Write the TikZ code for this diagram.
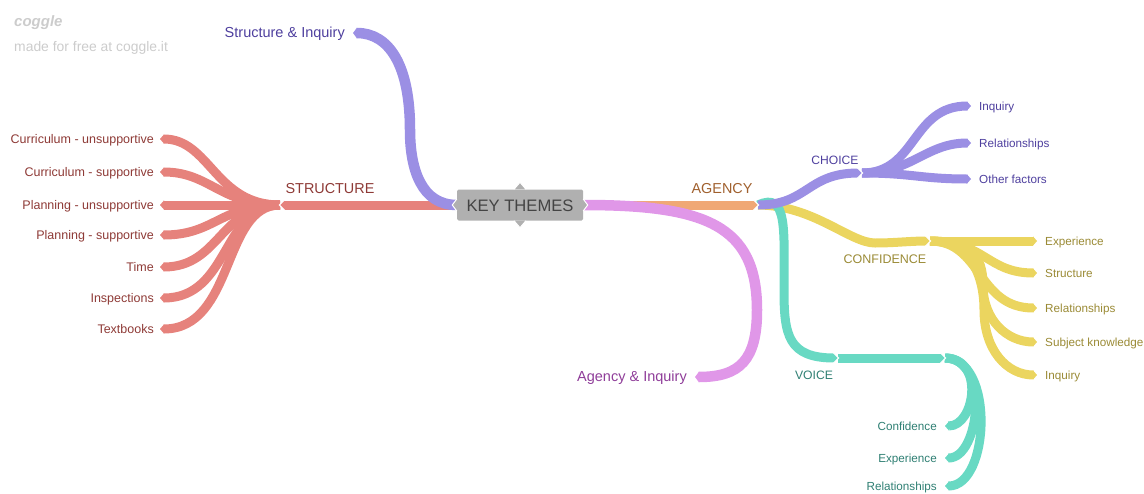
\documentclass[tikz,border=0pt]{standalone}
\usepackage{fontspec}
\setmainfont{Liberation Sans}
\usepackage{tikz}
\usetikzlibrary{positioning,arrows.meta}
\definecolor{redline}{HTML}{E6827C}
\definecolor{redtext}{HTML}{8E3A36}
\definecolor{purpleline}{HTML}{9B8FE4}
\definecolor{purpletext}{HTML}{4E3F9E}
\definecolor{orangeline}{HTML}{F0A875}
\definecolor{orangetext}{HTML}{A0602E}
\definecolor{pinkline}{HTML}{E097E8}
\definecolor{pinktext}{HTML}{8F3D99}
\definecolor{tealline}{HTML}{68D9C3}
\definecolor{tealtext}{HTML}{2F7F73}
\definecolor{yellowline}{HTML}{EBD55F}
\definecolor{yellowtext}{HTML}{9A8A35}
\definecolor{keygrey}{HTML}{B0B0B0}
\definecolor{keytext}{HTML}{444444}
\definecolor{cogglegrey}{HTML}{CCCCCC}
\begin{document}
\begin{tikzpicture}[x=1pt,y=-1pt,
	notch/.pic={\draw[white,line width=1pt] (-4.9,-5.5)--(0.6,0)--(-4.9,5.5);}]
		 \tikzstyle{every node}=[inner sep=0pt,text height=10pt,text depth=1pt]
		 \tikzstyle{branch}=[line width=9pt,-{Triangle[length=4pt,width=9pt]}]
		 \tikzstyle{thick branch}=[line width=10.5pt,-{Triangle[length=4pt,width=10.5pt]}]
		 \tikzstyle{redbranch}=[branch,draw=redline]
		 \tikzstyle{purplebranch}=[branch,draw=purpleline]
		 \tikzstyle{orangebranch}=[branch,draw=orangeline]
		 \tikzstyle{pinkbranch}=[branch,draw=pinkline]
		 \tikzstyle{tealbranch}=[branch,draw=tealline]
		 \tikzstyle{yellowbranch}=[branch,draw=yellowline]
		 \tikzstyle{lefttext}=[anchor=east,inner xsep=6pt,font=\fontsize{12.5}{15}\selectfont]
		 \tikzstyle{righttext}=[anchor=west,inner xsep=8pt,font=\fontsize{11.7}{14}\selectfont]
		 \tikzstyle{tealleaf}=[anchor=east,inner xsep=8pt,text=tealtext,font=\fontsize{11.7}{14}\selectfont]
		 \tikzstyle{headtext}=[text height=10pt,text depth=0pt]
		 \tikzstyle{keytip}=[draw=white,fill=keygrey,line width=1pt]

		  \useasboundingbox (0,0) rectangle (1144,493);

		  \node         (logo) [anchor=west,text=cogglegrey,font=\fontsize{15}{18}\bfseries\itshape\selectfont] at (14,22) {coggle};
		  \node         (free) [anchor=west,text=cogglegrey,font=\fontsize{13.9}{16}\selectfont] at (14,47) {made for free at coggle.it};

		  \node         (key) [fill=keygrey,rounded corners=1.5pt,minimum width=126pt,minimum height=31pt,text height=12pt,text depth=0pt,text=keytext,font=\fontsize{16.6}{20}\selectfont] at (520,205) {KEY THEMES};

		  \node         (cu) [lefttext,text=redtext] at (160,139) {Curriculum - unsupportive};
		  \node         (cs) [below=33pt of cu.east,lefttext,text=redtext] {Curriculum - supportive};
		  \node         (pu) [below=33pt of cs.east,lefttext,text=redtext] {Planning - unsupportive};
		  \node         (ps) [below=30pt of pu.east,lefttext,text=redtext] {Planning - supportive};
		  \node         (time) [below=32pt of ps.east,lefttext,text=redtext] {Time};
		  \node         (insp) [below=31pt of time.east,lefttext,text=redtext] {Inspections};
		  \node         (text) [below=31pt of insp.east,lefttext,text=redtext] {Textbooks};

		  \node         (si) [anchor=east,inner xsep=8pt,text=purpletext,font=\fontsize{14.5}{17}\selectfont] at (353,33) {Structure \& Inquiry};
		  \node         (ai) [anchor=east,inner xsep=8pt,text=pinktext,font=\fontsize{14.5}{17}\selectfont] at (695,377) {Agency \& Inquiry};

		  \node         (ci) [righttext,text=purpletext] at (971,106) {Inquiry};
		  \node         (cr) [below=37pt of ci.west,righttext,text=purpletext] {Relationships};
		  \node         (co) [below=36pt of cr.west,righttext,text=purpletext] {Other factors};

		  \node         (ye) [righttext,text=yellowtext] at (1037,241) {Experience};
		  \node         (ys) [below=32pt of ye.west,righttext,text=yellowtext] {Structure};
		  \node         (yr) [below=35pt of ys.west,righttext,text=yellowtext] {Relationships};
		  \node         (yk) [below=34pt of yr.west,righttext,text=yellowtext] {Subject knowledge};
		  \node         (yi) [below=33pt of yk.west,righttext,text=yellowtext] {Inquiry};

		  \node         (tc) [tealleaf] at (945,426) {Confidence};
		  \node         (te) [below=32pt of tc.east,tealleaf] {Experience};
		  \node         (tr) [below=28pt of te.east,tealleaf] {Relationships};

		  \node         (structure) [headtext,text=redtext,font=\fontsize{14.4}{17}\selectfont] at (330,188) {STRUCTURE};
		  \node         (agency) [headtext,text=orangetext,font=\fontsize{14.4}{17}\selectfont] at (722,188) {AGENCY};
		  \node         (choice) [headtext,text=purpletext,font=\fontsize{12.1}{15}\selectfont] at (835,159) {CHOICE};
		  \node         (confidence) [headtext,text=yellowtext,font=\fontsize{12.5}{15}\selectfont] at (885,258) {CONFIDENCE};
		  \node         (voice) [headtext,text=tealtext,font=\fontsize{12.2}{15}\selectfont] at (814,374) {VOICE};

		  \coordinate   (sjoin) at (280,205);
		  \coordinate   (ajoin) at (758,205);
		  \coordinate   (cjoin) at (862,173);
		  \coordinate   (yjoin) at (930,241);
		  \coordinate   (vjoin) at (838,358);
		  \coordinate   (tjoin) at (945,358);
		  \coordinate   (vbend) at (784,290);
		  \coordinate   (sbend) at (410,130);
		  \coordinate   (abend) at (757,310);
		  \coordinate   (ybend) at (875,243);
		  \coordinate   (ykbend) at (983,285);
		  \coordinate   (yibend) at (984,310);

		  \draw[redbranch] (sjoin) .. controls +(-65,0) and +(50,0) .. (cu.east);
		  \draw[redbranch] (sjoin) .. controls +(-60,0) and +(50,0) .. (cs.east);
		  \path(sjoin) edge[redbranch] (pu.east);
		  \draw[redbranch] (sjoin) .. controls +(-60,0) and +(55,0) .. (ps.east);
		  \draw[redbranch] (sjoin) .. controls +(-60,0) and +(60,0) .. (time.east);
		  \draw[redbranch] (sjoin) .. controls +(-58,0) and +(70,0) .. (insp.east);
		  \draw[redbranch] (sjoin) .. controls +(-58,0) and +(75,0) .. (text.east);
		  \path(key.west) edge[redbranch] (sjoin);
		  \path(sjoin) pic[rotate=180] {notch};

		  \draw[purplebranch,thick branch] (key.west) .. controls +(-35,0) and +(0,40) .. (sbend) .. controls +(0,-65) and +(36,0) .. (si.east);

		  \path(yjoin) edge[yellowbranch] (ye.west);
		  \draw[yellowbranch] (yjoin) .. controls +(55,0) and +(-50,0) .. (ys.west);
		  \draw[yellowbranch] (yjoin) .. controls +(52,0) and +(-60,0) .. (yr.west);
		  \draw[yellowbranch] (yjoin) .. controls +(40,0) and +(0,-30) .. (ykbend) .. controls +(0,35) and +(-30,0) .. (yk.west);
		  \draw[yellowbranch] (yjoin) .. controls +(40,0) and +(0,-35) .. (yibend) .. controls +(0,40) and +(-30,0) .. (yi.west);
		  \draw[yellowbranch] (ajoin) .. controls +(55,0) and +(-25,0) .. (ybend) .. controls +(20,0) and +(-20,0) .. (yjoin);
		  \path(yjoin) pic {notch};

		  \draw[tealbranch] (tjoin) .. controls +(40,0) and +(30,0) .. (tc.east);
		  \draw[tealbranch] (tjoin) .. controls +(45,0) and +(35,0) .. (te.east);
		  \draw[tealbranch] (tjoin) .. controls +(50,0) and +(45,0) .. (tr.east);
		  \path(vjoin) edge[tealbranch] (tjoin);
		  \path(tjoin) pic {notch};
		  \draw[tealbranch] (ajoin) .. controls +(30,-14) and +(0,-60) .. (vbend) .. controls +(0,45) and +(-50,0) .. (vjoin);
		  \path(vjoin) pic {notch};

		  \draw[purplebranch] (cjoin) .. controls +(55,0) and +(-60,0) .. (ci.west);
		  \draw[purplebranch] (cjoin) .. controls +(50,0) and +(-45,0) .. (cr.west);
		  \draw[purplebranch] (cjoin) .. controls +(50,0) and +(-50,0) .. (co.west);
		  \draw[purplebranch] (ajoin) .. controls +(50,0) and +(-55,0) .. (cjoin);
		  \path(cjoin) pic {notch};

		  \path(key.east) edge[orangebranch] (ajoin);
		  \path(ajoin) pic {notch};
		  \draw[pinkbranch,thick branch] (key.east) .. controls +(122,0) and +(0,-85) .. (abend) .. controls +(0,50) and +(45,0) .. (ai.east);

		  \draw[keytip] ([yshift=-6pt]key.west) -- ([xshift=-4.5pt]key.west) -- ([yshift=6pt]key.west);
		  \draw[keytip] ([yshift=-6pt]key.east) -- ([xshift=4.5pt]key.east) -- ([yshift=6pt]key.east);
		  \draw[keytip] ([xshift=-6pt]key.north) -- ([yshift=7pt]key.north) -- ([xshift=6pt]key.north);
		  \draw[keytip] ([xshift=-6pt]key.south) -- ([yshift=-7pt]key.south) -- ([xshift=6pt]key.south);

		\end{tikzpicture}
\end{document}
